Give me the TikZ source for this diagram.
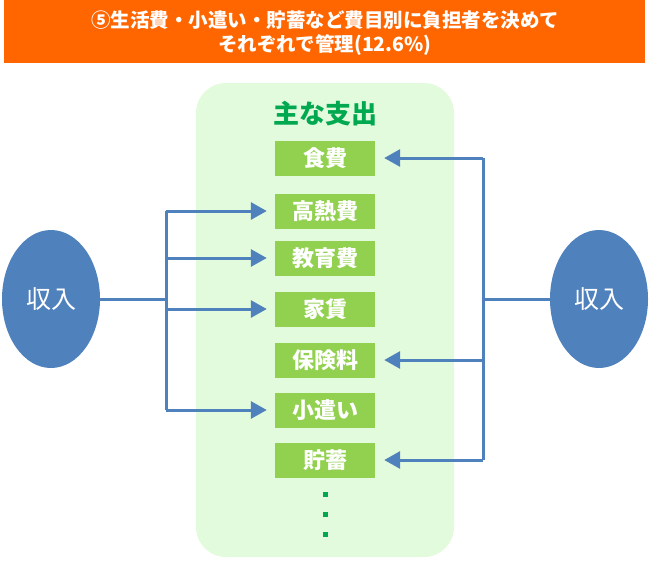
\documentclass[tikz,border=0pt]{standalone}
\usepackage{fontspec}
\newfontfamily\jp{Noto Sans CJK JP}
\usetikzlibrary{arrows.meta,shapes.geometric}
\definecolor{banner}{RGB}{255,102,0}
\definecolor{panel}{RGB}{227,251,221}
\definecolor{boxgreen}{RGB}{146,208,80}
\definecolor{titlegreen}{RGB}{0,168,80}
\definecolor{linkblue}{RGB}{79,129,189}
\tikzset{
  item/.style={fill=boxgreen, minimum width=100pt, minimum height=35pt, inner sep=0pt,
    text=white, font=\jp\bfseries\fontsize{22}{22}\selectfont},
  income/.style={ellipse, fill=linkblue, minimum width=98pt, minimum height=138pt, inner sep=0pt,
    text=white, font=\jp\fontsize{25}{25}\selectfont},
  conn/.style={draw=linkblue, line width=3pt},
  arr/.style={conn, -{Triangle[length=16pt,width=17pt]}},
}
\begin{document}
\begin{tikzpicture}[x=1pt,y=-1pt]
\useasboundingbox (0,0) rectangle (650,566);
\fill[banner] (4,0) rectangle (645,63);
\node[text=white, align=center, font=\jp\bfseries\fontsize{19.5}{24}\selectfont] (head) at (325,33)
  {⑤生活費・小遣い・貯蓄など費目別に負担者を決めて\\それぞれで管理(12.6\%)};

\fill[panel, rounded corners=30pt] (196,83) rectangle (454,557);
\node[text=titlegreen, font=\jp\bfseries\fontsize{26}{26}\selectfont] (title) at (325,114) {主な支出};

\node[item] (b1) at (325,158) {食費};
\node[item] (b2) at (325,211) {高熱費};
\node[item] (b3) at (325,258) {教育費};
\node[item] (b4) at (325,309) {家賃};
\node[item] (b5) at (325,360) {保険料};
\node[item] (b6) at (325,410) {小遣い};
\node[item] (b7) at (325,460) {貯蓄};
\foreach \y in {494,514,534}
  \fill[titlegreen] (322.5,\y-2.5) rectangle (327.5,\y+2.5);

\node[income] (inL) at (51,299) {収入};
\node[income] (inR) at (599,299) {収入};

% left side
\coordinate (lt) at (166,211);
\coordinate (lb) at (166,410);
\draw[conn] (inL.east) -- (inL.east -| lt);
\draw[conn] (lt) -- (lb);
\foreach \b in {b2,b3,b4,b6}
  \draw[arr, shorten >=8pt] (lt |- \b) -- (\b.west);

% right side
\coordinate (rt) at (483,158);
\coordinate (rb) at (483,460);
\draw[conn] (inR.west) -- (inR.west -| rt);
\draw[conn] (rt) -- (rb);
\foreach \b in {b1,b5,b7}
  \draw[arr, shorten >=9pt] (rt |- \b) -- (\b.east);
\end{tikzpicture}
\end{document}
